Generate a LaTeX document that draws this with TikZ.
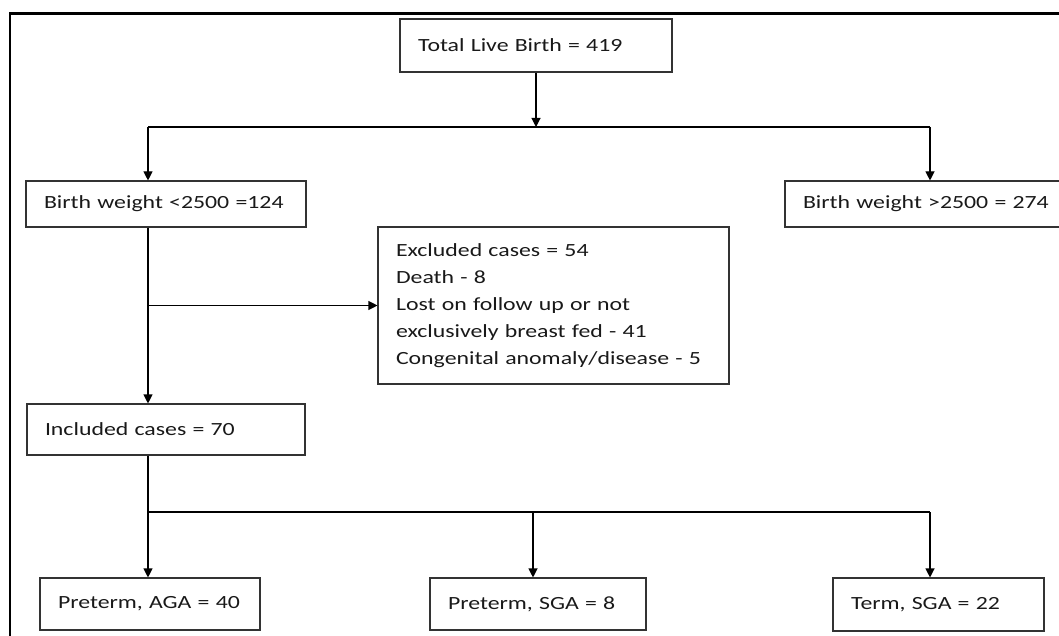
\documentclass[tikz,border=0pt]{standalone}
\usepackage{fontspec}
\setmainfont{Carlito}[FakeStretch=1.28]
\usetikzlibrary{arrows.meta}

\begin{document}
\begin{tikzpicture}[
                x=1pt, y=-1pt,
                every node/.style={
                  draw=black!80,
                  line width=1.1pt,
                  rectangle,
                  inner xsep=18pt,
                  align=left,
                  text=black!90,
                  font=\fontsize{18.6}{27}\selectfont,
                },
                line width=1.1pt,
                >={Triangle[length=9pt,width=9pt]},
              ]
              \useasboundingbox (0,0) rectangle (1059,636);
              \clip (0,0) rectangle (1059,636);
              % outer frame
              \draw[line width=2.2pt] (10,700) -- (10,13.5) -- (1100,13.5) ;
              \node[minimum width=272, minimum height=53, text width=236pt] at (536,45.5) (total) {Total Live Birth = 419} ;
              \node[minimum width=278, minimum height=46, text width=244pt] at (166,204) (low) {Birth weight <2500 =124} ;
              \node[minimum width=285, minimum height=46, text width=249pt] at (927.5,204) (high) {Birth weight >2500 = 274} ;
              \node[minimum width=351, minimum height=157, text width=315pt] at (553.5,305.5) (excl) {Excluded cases = 54\\Death - 8\\Lost on follow up or not\\exclusively breast fed - 41\\Congenital anomaly/disease - 5} ;
              \node[minimum width=278, minimum height=51, text width=242pt] at (166,429.5) (incl) {Included cases = 70} ;
              \node[minimum width=220, minimum height=52, text width=184pt] at (150,604) (paga) {Preterm, AGA = 40} ;
              \node[minimum width=216, minimum height=52, text width=180pt] at (538,604) (psga) {Preterm, SGA = 8} ;
              \node[minimum width=211, minimum height=53, text width=175pt] at (938.5,604.5) (tsga) {Term, SGA = 22} ;
              \coordinate (split) at (536,127) ;
              \coordinate (splitl) at (148,127) ;
              \coordinate (splitr) at (930,127) ;
              \coordinate (branch) at (148,305.5) ;
              \coordinate (fork) at (533,512) ;
              \coordinate (forkl) at (148,512) ;
              \coordinate (forkr) at (930,512) ;
              \draw[->] (total)--(split) ;
              \draw (splitl)--(splitr) ;
              \draw[->] (splitl)--(splitl |- low.north) ;
              \draw[->] (splitr)--(splitr |- high.north) ;
              \draw[->] (branch |- low.south)--(branch |- incl.north) ;
              \draw[->] (branch)--(excl) ;
              \draw[->] (forkl |- incl.south)--(forkl |- paga.north) ;
              \draw (forkl)--(forkr) ;
              \draw[->] (fork)--(fork |- psga.north) ;
              \draw[->] (forkr)--(forkr |- tsga.north) ;
              \end{tikzpicture}
\end{document}
